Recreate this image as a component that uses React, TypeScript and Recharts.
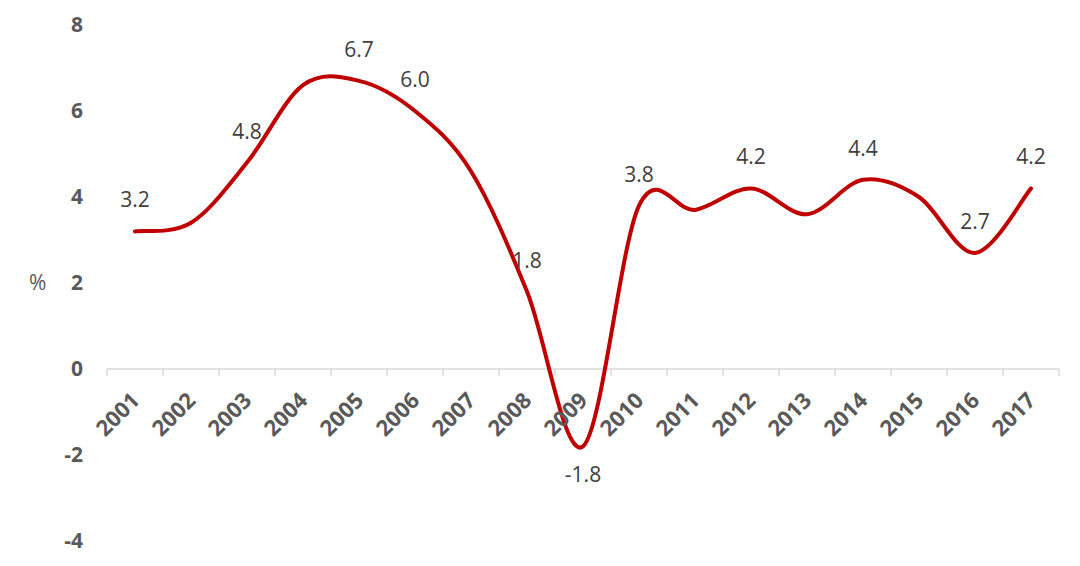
import { LineChart, Line, XAxis, YAxis, ReferenceLine, ReferenceDot, LabelList, Label } from 'recharts';

// Valores (% a.a.)
const YEARS = ['2001', '2002', '2003', '2004', '2005', '2006', '2007', '2008', '2009',
  '2010', '2011', '2012', '2013', '2014', '2015', '2016', '2017'];
const GROWTH = [3.2, 3.4, 4.8, 6.6, 6.7, 6.0, 4.6, 1.8, -1.8, 3.8, 3.7, 4.2, 3.6, 4.4, 4.0, 2.7, 4.2];
const LABELED = ['2001', '2003', '2005', '2006', '2008', '2009', '2010', '2012', '2014', '2016', '2017'];
const LABEL_BELOW = ['2009'];
const Y_TICKS = [-4, -2, 0, 2, 4, 6, 8];

const data = YEARS.map((year, i) => ({ year, value: GROWTH[i] }));

const FONT = '"Open Sans", "Noto Sans", sans-serif';
const RED = '#c00000';
const AXIS = '#d9d9d9';

// Suavização tipo Excel (Catmull-Rom uniforme -> Bézier cúbica)
function excelSmooth(context: any) {
  let pts: number[][] = [];
  return {
    areaStart() {},
    areaEnd() {},
    lineStart() { pts = []; },
    point(x: number, y: number) { pts.push([+x, +y]); },
    lineEnd() {
      const n = pts.length;
      if (!n) return;
      context.moveTo(pts[0][0], pts[0][1]);
      for (let i = 0; i < n - 1; i++) {
        const p0 = pts[i - 1] || pts[i];
        const p1 = pts[i];
        const p2 = pts[i + 1];
        const p3 = pts[i + 2] || pts[i + 1];
        context.bezierCurveTo(
          p1[0] + (p2[0] - p0[0]) / 6, p1[1] + (p2[1] - p0[1]) / 6,
          p2[0] - (p3[0] - p1[0]) / 6, p2[1] - (p3[1] - p1[1]) / 6,
          p2[0], p2[1],
        );
      }
    },
  };
}

function YearTick({ cx, cy, label }: any) {
  const ax = cx - 5;
  const ay = cy + 22;
  return (
    <text
      x={ax}
      y={ay}
      dy={15.5}
      textAnchor="end"
      transform={`rotate(-45 ${ax} ${ay})`}
      fontFamily={FONT}
      fontSize={22}
      fontWeight={700}
      fill="#595959"
    >
      {label}
    </text>
  );
}

function ValueLabel(props: any) {
  const { x, y, value, index } = props;
  const year = YEARS[index];
  if (!LABELED.includes(year)) return null;
  const below = LABEL_BELOW.includes(year);
  return (
    <text
      x={x}
      y={below ? y + 36 : y - 24}
      textAnchor="middle"
      fontFamily={FONT}
      fontSize={21}
      fill="#404040"
    >
      {Number(value).toFixed(1)}
    </text>
  );
}

export default function App() {
  const last = YEARS[YEARS.length - 1];
  return (
    <div style={{ position: 'absolute', left: 0, top: 0, width: 1080, height: 566, background: '#fff' }}>
      <LineChart
        width={1080}
        height={566}
        data={data}
        margin={{ top: 25, right: 21, bottom: 25, left: 0 }}
      >
        <XAxis dataKey="year" scale="band" hide />
        <YAxis
          type="number"
          domain={[-4, 8]}
          ticks={Y_TICKS}
          axisLine={false}
          tickLine={false}
          tickSize={0}
          tickMargin={24}
          width={107}
          tick={{ fontFamily: FONT, fontSize: 21, fontWeight: 700, fill: '#595959' }}
        >
          <Label
            value="%"
            position="insideLeft"
            offset={29}
            style={{ fontFamily: FONT, fontSize: 21, fill: '#595959' }}
          />
        </YAxis>
        <ReferenceLine y={0} stroke={AXIS} strokeWidth={1.5} />
        {YEARS.map((yr) => (
          <ReferenceLine
            key={`t-${yr}`}
            segment={[{ x: yr, y: 0 }, { x: yr, y: -0.16 }]}
            position="start"
            stroke={AXIS}
            strokeWidth={1.5}
          />
        ))}
        <ReferenceLine
          segment={[{ x: last, y: 0 }, { x: last, y: -0.16 }]}
          position="end"
          stroke={AXIS}
          strokeWidth={1.5}
        />
        {YEARS.map((yr) => (
          <ReferenceDot
            key={`l-${yr}`}
            x={yr}
            y={0}
            r={0}
            shape={(p: any) => <YearTick cx={p.cx} cy={p.cy} label={yr} />}
          />
        ))}
        <Line
          type={excelSmooth as any}
          dataKey="value"
          stroke={RED}
          strokeWidth={4}
          strokeLinecap="round"
          dot={false}
          activeDot={false}
          isAnimationActive={false}
        >
          <LabelList dataKey="value" content={ValueLabel} />
        </Line>
      </LineChart>
    </div>
  );
}
